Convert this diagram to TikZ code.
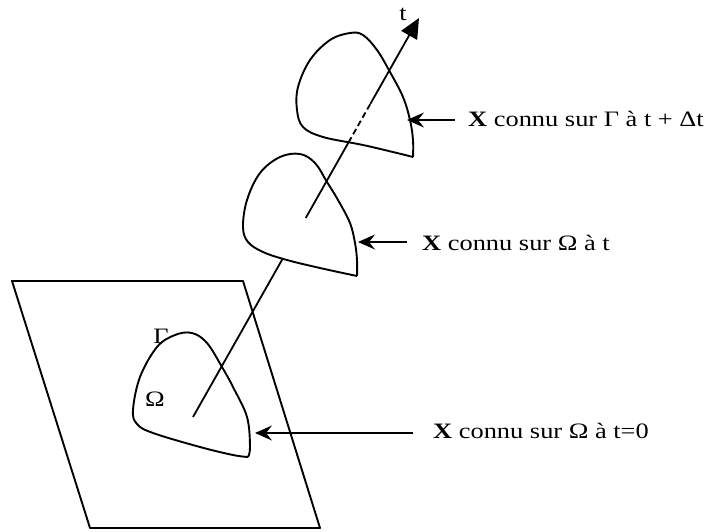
\documentclass[tikz,border=0pt]{standalone}
\usepackage{fontspec}
\setmainfont{Liberation Serif}[FakeStretch=1.2]
\usetikzlibrary{arrows.meta,calc}
\begin{document}
\begin{tikzpicture}[x=1pt,y=-1pt,
  outline/.style={line width=1.9pt, line join=round},
  axisline/.style={line width=1.8pt},
  pointer/.style={line width=1.6pt, -{Stealth[length=17pt,width=15pt,inset=6pt]}},
  lbl/.style={inner sep=0pt, anchor=base west, font=\fontsize{22}{26}\selectfont},
  greek/.style={inner sep=0pt, font=\fontsize{22}{26}\selectfont}]
\useasboundingbox (0,0) rectangle (718,531);
% plane
\draw[outline] (12,281) -- (243,281) -- (320,528) -- (90,528) -- cycle;
% bottom shape
\draw[outline] plot[smooth, tension=0.6] coordinates {(248,457) (250,447) (247,417) (233,387) (222,367) (207,343) (192,333) (175,335) (157,347) (140,377) (133,410) (137,424) (153,433) (200,447) (233,455) (248,457)};
% middle shape
\draw[outline] plot[smooth, tension=0.6] coordinates {(357,276) (357,260) (355,243) (350,223) (338,200) (327,182) (315,163) (300,154) (280,157) (260,173) (247,200) (243,227) (248,242) (263,252) (287,260) (320,268) (357,276)};
% top shape
\draw[outline] plot[smooth, tension=0.6] coordinates {(413,157) (413,140) (410,120) (403,97) (390,72) (377,50) (363,35) (350,33) (330,40) (310,60) (298,87) (297,110) (303,127) (323,137) (363,145) (397,153) (413,157)};
% axis
\coordinate (a0) at (193,417);
\coordinate (a1) at (419,18);
\coordinate (m1) at ($(a0)!0.397!(a1)$);
\coordinate (m2) at ($(a0)!0.499!(a1)$);
\coordinate (m3) at ($(a0)!0.688!(a1)$);
\coordinate (m4) at ($(a0)!0.785!(a1)$);
\draw[axisline] (a0) -- (m1);
\draw[axisline] (m2) -- (m3);
\draw[axisline, dash pattern=on 6pt off 3.5pt] (m3) -- (m4);
\draw[axisline, -{Triangle[length=20pt,width=18pt]}] (m4) -- (a1);
\node[greek] (tl) at (403,14) {t};
% labels
\node[greek] (gam) at (161,336) {Γ};
\node[greek] (om) at (155,399) {Ω};
\node[lbl] (l1) at (468,126) {\textbf{X} connu sur Γ à t + Δt};
\node[lbl] (l2) at (422,250) {\textbf{X} connu sur Ω à t};
\node[lbl] (l3) at (433,438) {\textbf{X} connu sur Ω à t=0};
\coordinate (c1) at (407,120);
\coordinate (c2) at (358,242);
\coordinate (c3) at (255,433);
\draw[pointer] (455,120) -- (c1);
\draw[pointer] (407,242) -- (c2);
\draw[pointer] (413,433) -- (c3);
\end{tikzpicture}
\end{document}
